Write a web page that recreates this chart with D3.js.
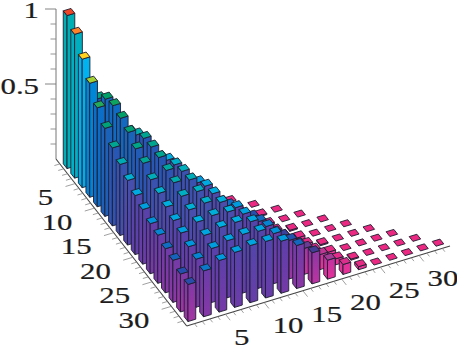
<!DOCTYPE html>
<html><head><meta charset="utf-8">
<script src="https://cdn.jsdelivr.net/npm/d3@7"></script>
<style>html,body{margin:0;padding:0;background:#fff}svg{display:block}</style>
</head><body><svg id="c" width="457" height="346"></svg>
<script>
const col0=[1,.94,.84,.745,.647,.575,.51,.464,.422,.386,.357,.327,.314,.288,.275,.248,.242];
const col1=[.46,.55,.61,.63,.61,.58,.535,.503,.458,.431,.405,.379,.36,.333,.314,.30];
const col2=[.26,.36,.425,.47,.51,.516,.51,.488,.47,.444,.418,.40,.376,.353,.337];
const col3=[.163,.229,.294,.353,.399,.431,.451,.458,.444,.431,.412,.397,.373,.359];
const col4=[.05,.1,.163,.229,.294,.346,.386,.399,.405,.405,.399,.383,.373];
const col5=[.02,.05,.1,.144,.196,.248,.29,.34,.36,.373,.373,.369];
const col6=[0,.013,.05,.078,.13,.196,.248,.281,.311,.327,.34];
const col7=[0,.013,.033,.059,.092,.131,.176,.216,.252,.281];
const col8=[0,.007,.013,.033,.059,.092,.131,.17,.203];
const col9=[0,0,.007,.02,.039,.065,.098,.124];
const col10=[0,0,0,.007,.02,.039,.065];
const col11=[0,0,0,0,.007,.02];
const col12=[0,0,0,0,0];
const col13=[0,0,0,0];
const col14=[0,0,0];
const col15=[0,0];
const col16=[0];
const columns=[col0,col1,col2,col3,col4,col5,col6,col7,col8,col9,col10,col11,col12,col13,col14,col15,col16];
const rowTicks=[5,10,15,20,25,30];
const colTicks=[5,10,15,20,25,30];
const zMajor=[{v:1,t:"1"},{v:.5,t:"0.5"}];
const zMinor=[0.1,0.2,0.3,0.4,0.6,0.7,0.8,0.9];

const topStops=[[0,"#eb2882"],[.06,"#e12d8c"],[.12,"#aa3c96"],[.2,"#463c96"],[.25,"#2350af"],[.29,"#0f6ec3"],[.33,"#0096dc"],[.4,"#00afe1"],[.45,"#00afbe"],[.5,"#00a596"],[.62,"#00a064"],[.75,"#aad232"],[.84,"#ffd21e"],[.94,"#ff8228"],[1,"#f04628"]];
const sideStops=[[.03,"#eb3296"],[.1,"#cd32a0"],[.2,"#8c37a5"],[.3,"#6a3ca8"],[.35,"#5840aa"],[.42,"#4650ac"],[.5,"#2855b4"],[.58,"#1964b9"],[.65,"#0a6ec8"],[.745,"#0087d7"],[.84,"#00b4f0"],[.94,"#00afbe"],[1,"#00afb4"]];
const topColor=d3.scaleLinear().domain(topStops.map(d=>d[0])).range(topStops.map(d=>d[1])).interpolate(d3.interpolateRgb).clamp(true);
const sideColor=d3.scaleLinear().domain(sideStops.map(d=>d[0])).range(sideStops.map(d=>d[1])).interpolate(d3.interpolateRgb).clamp(true);
const sideDrop=d3.scaleLinear().domain([.3,.6]).range([.08,.02]).clamp(true);

const rowX=d3.scaleLinear().domain([0,34]).range([0,128.5]);
const rowY=d3.scaleLinear().domain([0,34]).range([0,162.5]);
const colX=d3.scaleLinear().domain([0,34]).range([0,263.5]);
const colY=d3.scaleLinear().domain([0,34]).range([0,-80]);
const zBar=d3.scaleLinear().domain([0,1]).range([0,153]);
const ox=57.5, oy=162.6;
const P=(r,c,v=0)=>[ox+rowX(r)+colX(c),oy+rowY(r)+colY(c)-zBar(v)];

const cells=[];
columns.forEach((arr,j)=>arr.forEach((v,k)=>{const i=j+k;cells.push({i,j,v,r:2*i+1,c:2*j+1});}));
cells.sort((a,b)=>P(a.r,a.c)[1]-P(b.r,b.c)[1]);

const svg=d3.select("#c");
const defs=svg.append("defs");
const gAxes=svg.append("g");
const axisA=[56,159],axisF=[186.7,326],axisR=[450,246];
const L=d3.scaleLinear().domain([0,34]);
const lx=L.copy().range([axisA[0],axisF[0]]),ly=L.copy().range([axisA[1],axisF[1]]);
const rx=L.copy().range([axisF[0],axisR[0]]),ry=L.copy().range([axisF[1],axisR[1]]);
const zAx=d3.scaleLinear().domain([0,1]).range([159,9]);
function seg(g,x1,y1,x2,y2,w,c){g.append("line").attr("x1",x1).attr("y1",y1).attr("x2",x2).attr("y2",y2).attr("stroke",c).attr("stroke-width",w);}
seg(gAxes,axisA[0],zAx(0),axisA[0],zAx(1),1,"#777");
seg(gAxes,axisA[0],axisA[1],axisF[0],axisF[1],1.1,"#444");
seg(gAxes,axisF[0],axisF[1],axisR[0],axisR[1],1.1,"#444");
zMinor.forEach(v=>seg(gAxes,axisA[0],zAx(v),axisA[0]-5.5,zAx(v),.9,"#888"));
zMajor.forEach(d=>seg(gAxes,axisA[0],zAx(d.v),axisA[0]-11,zAx(d.v),.9,"#777"));
d3.range(1,34).forEach(u=>{const maj=u%5===0,k=maj?1.25:.7;
  seg(gAxes,lx(u),ly(u),lx(u)-7.75*k,ly(u)+2.35*k,.8,"#888");
  seg(gAxes,rx(u),ry(u),rx(u)+3.78*k,ry(u)+4.78*k,.8,"#888");
});
function label(x,y,t,anchor){svg.append("text").attr("transform",`translate(${x},${y}) scale(1.34,1)`).attr("text-anchor",anchor)
  .attr("font-family","'Liberation Serif',serif").attr("font-size",23).attr("fill","#1c1c1c").attr("stroke","#1c1c1c").attr("stroke-width",.2).text(t);}

const bars=svg.append("g").selectAll("g").data(cells).join("g");
bars.each(function(d){
  const g=d3.select(this);
  const h=.5;
  const base=(dr,dc,v)=>P(d.r+dr,d.c+dc,v);
  const tl=base(-h,-h,d.v),tf=base(h,-h,d.v),tr=base(h,h,d.v),tb=base(-h,h,d.v);
  const bl=base(-h,-h,0),bf=base(h,-h,0),br=base(h,h,0);
  const stroke="#1e1e30";
  if(d.v>0.004){
    const id=`g${d.i}_${d.j}`;
    const lg=defs.append("linearGradient").attr("id",id).attr("x1",0).attr("x2",0).attr("y1",0).attr("y2",1);
    lg.append("stop").attr("offset",0).attr("stop-color",sideColor(d.v));
    lg.append("stop").attr("offset",1).attr("stop-color",sideColor(d.v-sideDrop(d.v)));
    g.append("polygon").attr("points",[tl,tf,bf,bl].map(p=>p.join()).join(" ")).attr("fill",`url(#${id})`).attr("stroke",stroke).attr("stroke-width",.9);
    g.append("polygon").attr("points",[tf,tr,br,bf].map(p=>p.join()).join(" ")).attr("fill",`url(#${id})`).attr("stroke",stroke).attr("stroke-width",.9);
  }
  g.append("polygon").attr("points",[tl,tf,tr,tb].map(p=>p.join()).join(" ")).attr("fill",topColor(d.v)).attr("stroke",stroke).attr("stroke-width",.9);
});

zMajor.forEach(d=>label(39,zAx(d.v)+(d.v===1?9:9.5),d.t,"end"));
rowTicks.forEach(u=>label(lx(u)-22,ly(u)+21.5,u,"end"));
colTicks.forEach(u=>label(rx(u)+8.5,ry(u)+31,u,"start"));
</script></body></html>
